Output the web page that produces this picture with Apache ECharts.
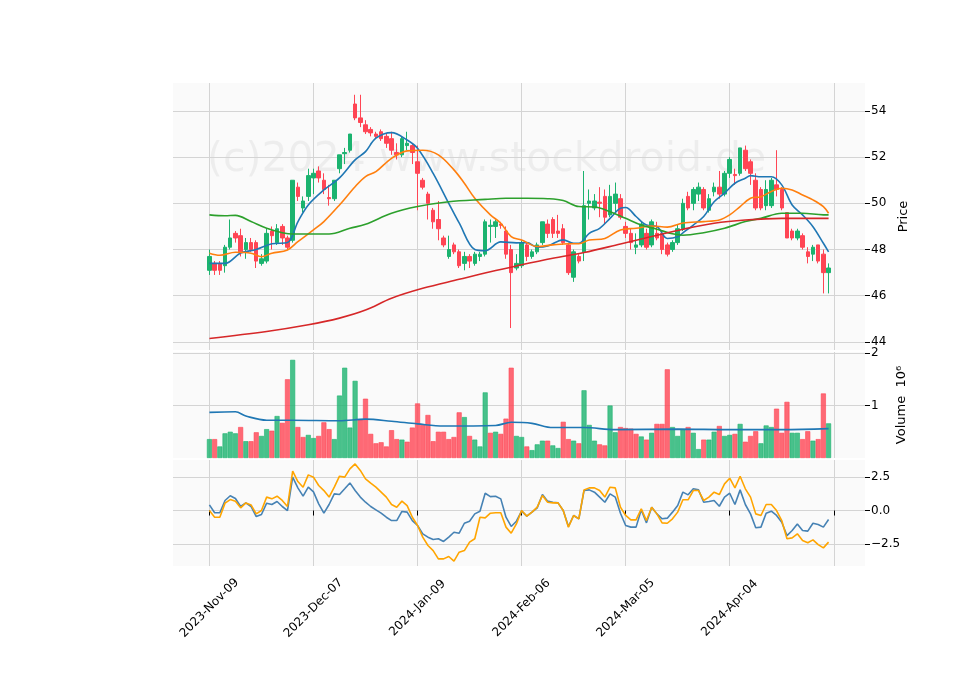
<!DOCTYPE html>
<html lang="en">
<head>
<meta charset="UTF-8">
<script src="https://cdn.jsdelivr.net/npm/echarts@6/dist/echarts.min.js"></script>
<title>Chart</title>
<style>body{margin:0;background:#fff}</style>
</head>
<body>
<div id="main" style="width:960px;height:690px;"></div>
<script type="text/javascript">
// x tick labels, one every 20 trading days
var tickLabels = ['2023-Nov-09', '2023-Dec-07', '2024-Jan-09', '2024-Feb-06', '2024-Mar-05', '2024-Apr-04'];

// candles: [open, close, low, high]
var ohlc = [
  [47.1,47.7,46.9,48.0],[47.4,47.1,46.9,47.5],[47.4,47.1,46.9,47.5],[47.3,48.1,47.0,48.2],[48.1,48.5,48.0,49.3],
  [48.7,48.5,48.3,48.8],[48.6,47.9,47.7,48.9],[48.0,48.3,47.6,48.5],[48.3,48.0,47.9,48.5],[48.3,47.5,47.2,48.4],
  [47.4,47.6,47.3,47.8],[47.5,48.7,47.4,48.9],[48.8,48.6,48.0,49.0],[48.3,48.9,48.2,49.1],[49.0,48.5,48.2,49.1],
  [48.5,48.1,48.0,48.6],[48.4,51.0,48.3,51.0],[50.7,50.3,50.1,50.9],[49.8,50.1,49.6,50.3],[50.3,51.2,50.1,51.5],
  [51.1,51.3,50.4,51.5],[51.4,51.1,50.9,51.6],[51.0,50.6,50.4,51.3],[50.25,50.2,49.9,50.8],[50.2,51.0,50.1,51.0],
  [51.5,52.1,51.3,52.1],[52.15,52.2,51.7,52.4],[52.3,53.0,52.2,53.0],[54.3,53.7,53.6,54.7],[53.7,53.5,53.3,54.7],
  [53.4,53.1,53.0,53.6],[53.2,53.05,52.9,53.3],[53.0,52.9,52.8,53.1],[53.1,52.8,52.7,53.2],[52.9,52.6,52.4,53.0],
  [52.8,52.3,52.1,53.1],[52.2,52.1,51.9,52.6],[52.1,52.8,52.0,52.9],[52.5,52.6,52.3,53.1],[52.5,52.2,51.7,52.6],
  [51.8,51.3,49.7,52.5],[51.0,50.7,50.6,51.1],[50.4,50.0,49.3,50.5],[49.7,49.2,48.9,49.8],[49.3,48.9,48.4,50.1],
  [48.5,48.2,48.1,48.6],[47.7,48.0,47.6,48.6],[48.2,47.9,47.8,48.3],[47.9,47.3,47.2,48.0],[47.4,47.7,47.1,47.9],
  [47.7,47.5,47.2,47.8],[47.4,47.8,47.3,47.9],[47.7,47.8,47.5,47.9],[47.8,49.2,47.7,49.3],[49.0,49.05,48.3,49.3],
  [49.0,49.2,48.5,49.3],[49.1,49.05,48.9,49.2],[48.8,47.8,47.6,49.0],[48.0,47.0,44.6,48.2],[47.2,47.4,47.1,47.8],
  [47.3,48.3,47.2,48.4],[48.2,47.7,47.5,48.3],[47.7,47.9,47.6,48.0],[47.9,48.2,47.8,48.3],[48.3,49.2,48.2,49.2],
  [49.1,48.7,48.5,49.3],[49.3,48.7,48.5,49.4],[48.8,48.7,48.5,49.5],[48.9,48.3,48.2,49.1],[48.2,47.0,46.9,48.3],
  [46.8,47.9,46.6,48.0],[47.7,47.5,47.4,47.8],[47.9,49.9,47.5,51.4],[50.0,50.1,49.3,50.6],[49.8,50.1,49.7,50.4],
  [50.05,50.0,49.4,50.7],[50.3,49.4,49.1,50.6],[49.5,50.3,49.4,50.8],[50.0,50.4,49.6,50.9],[50.2,49.4,49.3,50.4],
  [49.0,48.7,48.5,49.2],[48.7,48.3,48.0,48.9],[48.1,48.2,47.8,48.7],[48.2,49.1,48.1,49.2],[48.7,48.1,48.0,48.9],
  [48.2,49.2,48.1,49.3],[48.7,48.5,48.4,49.2],[48.7,48.0,47.8,48.8],[48.2,47.8,47.7,48.3],[48.0,48.3,47.9,48.4],
  [48.3,48.9,48.2,49.1],[48.9,50.0,48.8,50.2],[50.3,49.8,49.7,50.5],[50.0,50.6,49.7,50.7],[50.4,50.7,50.1,50.9],
  [50.6,49.8,49.7,50.7],[49.7,50.2,49.6,50.4],[50.5,50.7,50.3,50.9],[50.7,50.4,50.2,51.4],[50.4,51.3,50.3,51.4],
  [51.3,51.9,51.1,52.0],[51.25,51.2,50.8,51.5],[51.3,52.4,51.2,52.4],[52.3,51.5,51.4,52.5],[51.8,51.3,50.8,51.9],
  [51.0,49.8,49.7,51.3],[50.6,49.8,49.7,50.7],[49.9,50.6,49.7,51.0],[49.9,51.0,49.8,51.1],[50.8,50.6,50.3,52.3],
  [50.6,49.8,49.7,50.7],[49.6,48.5,48.5,49.6],[48.8,48.5,48.4,48.9],[48.5,48.8,48.4,48.9],[48.6,48.1,48.0,48.7],
  [47.9,47.7,47.4,48.1],[47.8,48.1,47.5,48.2],[48.2,47.5,47.4,48.2],[47.8,47.0,46.1,48.0],[47.0,47.2,46.1,47.4]
];

// volume in millions
var volume = [
  .36,.36,.22,.47,.50,.47,.59,.32,.32,.49, .42,.55,.52,.80,.67,1.50,1.87,.59,.40,.44,
  .38,.42,.68,.55,.36,1.19,1.72,.58,1.47,.73, 1.13,.46,.28,.30,.22,.53,.36,.35,.31,.58,
  1.04,.63,.82,.32,.50,.50,.36,.40,.87,.78, .42,.35,.22,1.25,.48,.50,.46,.75,1.72,.42,
  .40,.22,.15,.26,.33,.33,.24,.19,.69,.36, .33,.28,1.29,.63,.33,.26,.24,1.0,.49,.59,
  .57,.56,.46,.41,.35,.48,.65,.65,1.69,.59, .42,.55,.59,.48,.17,.35,.35,.50,.61,.42,
  .44,.46,.65,.31,.42,.51,.28,.62,.59,.94, .48,1.07,.48,.48,.36,.51,.33,.36,1.23,.66
];

// moving averages: [bar index, value]
var maBlue = [[0,47.4],[3,47.4],[6,47.85],[9,48.0],[12,48.25],[15,48.3],[17,49.2],[19,49.93],[22,50.58],[25,51.1],[28,51.88],
  [30,52.24],[32,52.82],[35,53.06],[38,52.74],[40,52.38],[43,51.3],[46,50.0],[48,49.15],[51,48.0],[53,47.95],[56,48.33],[59,48.29],
  [61,48.3],[63,48.1],[65,48.15],[68,48.42],[70,48.27],[71,48.27],[73,48.7],[75,48.92],[77,49.35],[79,49.79],[80,49.82],[82,49.43],
  [84,49.06],[86,49.0],[88,48.48],[90,48.55],[91,48.72],[93,49.06],[95,49.43],[97,50.07],[99,50.44],[101,50.87],[103,51.09],
  [104,51.2],[106,51.15],[108,51.15],[110,50.8],[112,49.93],[114,49.5],[116,48.99],[118,48.27],[119,47.9]];
var maOrange = [[0,47.84],[2,47.75],[5,47.88],[8,47.84],[10,47.69],[12,47.84],[15,47.98],[17,48.34],[20,48.85],[22,49.21],
  [25,49.93],[28,50.72],[30,51.16],[32,51.37],[35,51.95],[38,52.27],[41,52.3],[44,52.1],[47,51.45],[49,50.87],[51,50.22],
  [54,49.5],[56,49.14],[58,48.56],[60,48.41],[63,48.13],[66,48.2],[69,48.25],[71,48.25],[73,48.41],[76,48.48],[79,48.85],
  [82,48.92],[85,49.02],[88,48.97],[91,49.15],[95,49.21],[98,49.28],[100,49.5],[102,49.86],[104,50.22],[106,50.29],
  [108,50.51],[110,50.65],[112,50.58],[114,50.36],[116,50.15],[118,49.86],[119,49.57]];
var maGreen = [[0,49.5],[3,49.46],[5,49.48],[8,49.21],[11,48.92],[14,48.73],[16,48.67],[19,48.67],[23,48.67],[27,48.92],
  [30,49.09],[35,49.57],[40,49.86],[46,50.07],[53,50.17],[57,50.22],[61,50.22],[65,50.2],[68,50.12],[71,49.86],[74,49.84],
  [77,49.64],[80,49.35],[83,49.06],[86,48.88],[89,48.68],[91,48.62],[95,48.73],[99,48.92],[103,49.21],[106,49.35],
  [110,49.57],[114,49.57],[118,49.5],[119,49.5]];
var maRed = [[0,44.15],[11,44.45],[19,44.74],[25,45.03],[30,45.38],[35,45.89],[41,46.32],[48,46.71],[54,47.04],[59,47.29],
  [66,47.62],[72,47.87],[79,48.24],[85,48.56],[91,48.88],[97,49.14],[103,49.28],[110,49.35],[119,49.35]];
var volMa = [[0,.87],[5,.88],[7,.80],[11,.72],[16,.72],[25,.71],[30,.74],[35,.70],[40,.65],[45,.61],[55,.62],[58,.68],
  [62,.66],[66,.58],[72,.58],[78,.54],[90,.55],[100,.54],[110,.54],[119,.56]];

// lower panel oscillators
var oscBlue = [.42,-.17,-.17,.75,1.1,.9,.3,.57,.3,-.45, -.3,.55,.45,.67,.3,0,2.49,1.69,1.07,1.74,
  1.39,.5,-.2,.45,1.24,1.19,1.62,2.06,1.49,1.0, .62,.3,.05,-.2,-.5,-.75,-.75,-.07,-.12,-.75,
  -1.12,-1.74,-1.99,-2.16,-2.11,-2.31,-1.99,-1.62,-1.69,-.95, -.8,-.25,-.05,1.29,1.04,1.07,.87,-.5,-1.19,-.8,
  -.05,-.42,-.12,.2,1.19,.7,.62,.57,0,-1.19, -.37,-.62,1.49,1.54,1.37,1.0,.62,1.24,1.0,-.2,
  -1.12,-1.24,-1.24,.05,-.92,.25,-.25,-.62,-.57,-.12, .37,1.37,1.17,1.62,1.54,.62,.67,.75,.32,1.0,
  1.29,.45,1.54,.45,-.25,-1.29,-1.24,-.2,-.05,-.37, -.87,-1.87,-1.49,-1.0,-1.49,-1.54,-.95,-1.05,-1.24,-.67];
var oscOrange = [0,-.5,-.5,.55,.82,.7,.2,.57,.42,-.25, 0,1.0,.87,1.07,.75,.3,2.94,2.16,1.74,2.66,
  2.49,1.87,1.49,1.0,1.74,2.56,2.49,3.11,3.48,2.99, 2.36,2.04,1.74,1.37,1.0,.45,.25,.7,.37,-.5,
  -1.12,-1.99,-2.61,-2.99,-3.61,-3.61,-3.43,-3.78,-3.11,-2.99, -2.36,-2.11,-.5,-.55,-.2,-.17,-.17,-1.24,-1.69,-1.0,
  0,-.42,-.12,.25,1.12,.62,.57,.57,0,-1.24, -.37,-.62,1.54,1.69,1.69,1.49,1.0,1.74,1.69,.25,
  -.37,-.7,-.7,.12,-.75,.25,-.25,-.92,-.95,-.62, -.12,.8,.8,1.49,1.49,.75,1.0,1.37,1.19,1.99,
  2.41,1.69,2.56,1.62,1.0,-.25,-.37,.45,.45,0, -.75,-2.11,-2.04,-1.74,-2.24,-2.41,-2.19,-2.54,-2.79,-2.36];

// axis spans from bar -7 to bar 126 so that bar 0 and bar 120 land on the ticks
var PAD = 7, NCAT = 134;
var cats = [];
for (var k = 0; k < NCAT; k++) cats.push(String(k - PAD));

function padded(arr, empty) {
  var out = [];
  for (var k = 0; k < NCAT; k++) out.push(empty);
  arr.forEach(function (v, i) { out[i + PAD] = v; });
  return out;
}
function sparse(pairs) {
  var out = [];
  for (var k = 0; k < NCAT; k++) out.push('-');
  pairs.forEach(function (p) { out[p[0] + PAD] = p[1]; });
  return out;
}

var UP = '#1bb36f', DOWN = '#ff4554';
var volData = volume.map(function (v, i) {
  var prev = i > 0 ? ohlc[i - 1][1] : ohlc[i][0];
  var up = ohlc[i][1] >= prev;
  return {value: v, itemStyle: {color: up ? 'rgba(27,179,111,0.8)' : 'rgba(255,69,84,0.8)', borderColor: up ? UP : DOWN, borderWidth: 0.6}};
});

function isTick(idx) { var b = idx - PAD; return b >= 0 && b <= 120 && b % 20 === 0; }

var grids = [
  {left: 173, right: 95, top: 83, height: 267},
  {left: 173, right: 95, top: 352, height: 106},
  {left: 173, right: 95, top: 460, height: 106}
];
function xAx(gi, labels) {
  return {
    type: 'category', gridIndex: gi, data: cats, boundaryGap: false,
    axisLine: {show: false},
    axisTick: {show: labels, interval: function (idx) { return isTick(idx); }, length: 5, lineStyle: {color: '#000'}},
    axisLabel: {
      show: labels, rotate: 45, align: 'center', verticalAlign: 'middle', color: '#000', fontSize: 12,
      fontFamily: 'DejaVu Sans', margin: 42,
      interval: function (idx) { return isTick(idx) && idx - PAD <= 100; },
      formatter: function (v) { var b = +v; return b % 20 === 0 && b >= 0 && b / 20 < tickLabels.length ? tickLabels[b / 20] : ''; }
    },
    splitLine: {show: true, interval: function (idx) { return isTick(idx); }, lineStyle: {color: '#d4d4d4', width: 1}}
  };
}
function yAx(gi, min, max, ticks, name, fmt) {
  return {
    type: 'value', gridIndex: gi, position: 'right', min: min, max: max, scale: true,
    name: name, nameLocation: 'middle', nameRotate: 90, nameGap: 30,
    nameTextStyle: {color: '#000', fontSize: 13, fontFamily: 'DejaVu Sans'},
    axisLine: {show: false},
    axisTick: {show: true, customValues: ticks, length: 5, lineStyle: {color: '#000'}},
    axisLabel: {customValues: ticks, color: '#000', fontSize: 12, fontFamily: 'DejaVu Sans', margin: 6, formatter: fmt},
    splitLine: {show: true, lineStyle: {color: '#d4d4d4', width: 1}}
  };
}
function maLine(pairs, color, xi, yi) {
  return {type: 'line', xAxisIndex: xi, yAxisIndex: yi, data: sparse(pairs), connectNulls: true, smooth: 0.35,
    showSymbol: false, silent: true, lineStyle: {color: color, width: 1.6}, z: 5};
}

var myChart = echarts.init(document.getElementById('main'));
var option = {
  animation: false,
  backgroundColor: '#fff',
  grid: grids.map(function (g) { return Object.assign({show: true, backgroundColor: '#fafafa', borderWidth: 0}, g); }),
  graphic: [{
    type: 'text', left: 207, top: 140, z: 0, silent: true,
    style: {text: '(c)2024 www.stockdroid.de', fill: 'rgba(0,0,0,0.05)', font: '41px "DejaVu Sans"'}
  }],
  xAxis: [xAx(0, false), xAx(1, false), xAx(2, true)],
  yAxis: [
    yAx(0, 43.65, 55.21, [44, 46, 48, 50, 52, 54], 'Price', function (v) { return v; }),
    yAx(1, 0, 2.02, [1, 2], 'Volume  10\u2076', function (v) { return v; }),
    yAx(2, -4.14, 3.77, [-2.5, 0, 2.5], '', function (v) { return v.toFixed(1).replace('-', '\u2212'); })
  ],
  series: [
    {
      type: 'candlestick', xAxisIndex: 0, yAxisIndex: 0, data: padded(ohlc, ['-', '-', '-', '-']), barWidth: 4, z: 3,
      itemStyle: {color: UP, color0: DOWN, borderColor: UP, borderColor0: DOWN, borderWidth: 1}
    },
    maLine(maBlue, '#1f77b4', 0, 0),
    maLine(maOrange, '#ff7f0e', 0, 0),
    maLine(maGreen, '#2ca02c', 0, 0),
    maLine(maRed, '#d62728', 0, 0),
    {type: 'bar', xAxisIndex: 1, yAxisIndex: 1, data: padded(volData, '-'), barWidth: 5, z: 2},
    maLine(volMa, '#1f77b4', 1, 1),
    {type: 'line', xAxisIndex: 2, yAxisIndex: 2, data: padded(oscBlue, '-'), showSymbol: false, lineStyle: {color: '#4682b4', width: 1.6}},
    {type: 'line', xAxisIndex: 2, yAxisIndex: 2, data: padded(oscOrange, '-'), showSymbol: false, lineStyle: {color: '#ffa500', width: 1.6}}
  ]
};
myChart.setOption(option);
</script>
</body>
</html>
